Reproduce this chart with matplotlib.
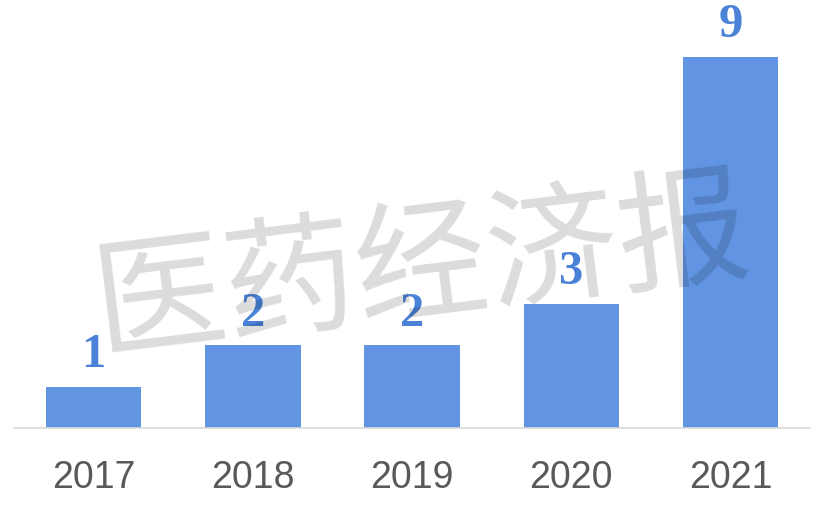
import matplotlib.pyplot as plt

years = ['2017', '2018', '2019', '2020', '2021']
counts = [1, 2, 2, 3, 9]
watermark = '医药经济报'

fig = plt.figure(figsize=(8.25, 5.16), dpi=100)
ax = fig.add_axes([0.017, 0.1705, 0.965, 0.80])

bars = ax.bar(range(len(years)), counts, width=0.6, color='#6194e3', zorder=2)
ax.set_xlim(-0.5, len(years) - 0.5)
ax.set_ylim(0, 10)

for b, v in zip(bars, counts):
    ax.annotate(str(v), xy=(b.get_x() + b.get_width() / 2, v), xytext=(0, 7),
                textcoords='offset points', ha='center', va='bottom',
                family='Liberation Serif', fontweight='bold', fontsize=35,
                color='#4a82d8', zorder=4)

ax.set_xticks(range(len(years)))
ax.set_xticklabels(years, family='Liberation Sans', fontsize=27, color='#595959')
ax.tick_params(axis='x', length=0, pad=23)
ax.set_yticks([])
for s in ['top', 'right', 'left']:
    ax.spines[s].set_visible(False)
ax.spines['bottom'].set_color('#d9d9d9')
ax.spines['bottom'].set_linewidth(1.2)

# watermark over the bars
fig.text(0.512, 0.478, watermark, family=['Noto Sans CJK SC', 'DejaVu Sans'],
         fontsize=95, fontweight='light', color='black', alpha=0.14, rotation=7,
         ha='center', va='center', zorder=3)

fig.savefig('out.png', dpi=100)
